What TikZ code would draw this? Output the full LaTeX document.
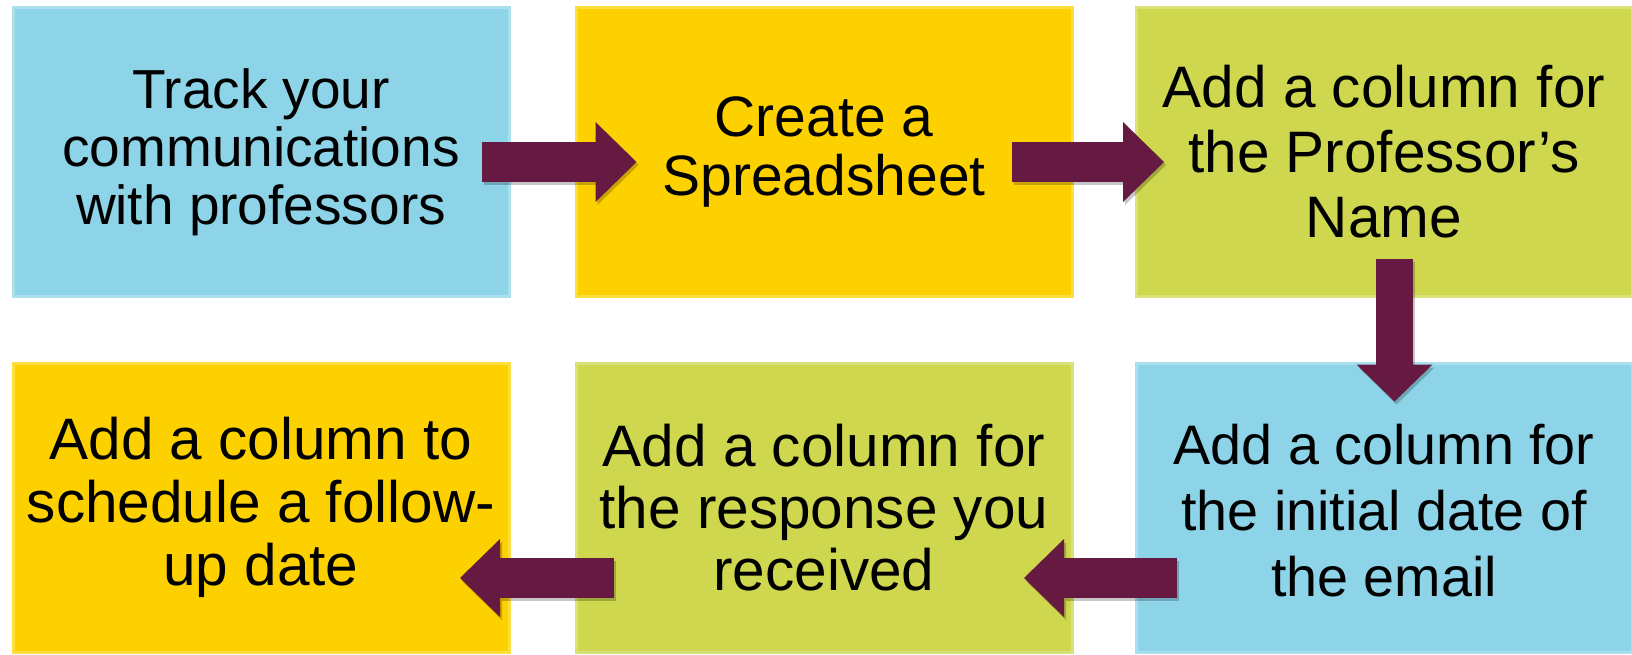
\documentclass[tikz,border=0pt]{standalone}
\usepackage{fontspec}
\setmainfont{Liberation Sans}
\usetikzlibrary{arrows.meta,calc}
\definecolor{cblue}{HTML}{8ED4E8}
\definecolor{cyellow}{HTML}{FDD100}
\definecolor{cgreen}{HTML}{CED74D}
\definecolor{cmaroon}{HTML}{661A42}
\begin{document}
\begin{tikzpicture}[x=1pt,y=-1pt,
  box/.style={minimum width=496pt, minimum height=288pt, inner sep=0pt,
    align=center, text=black, line width=3pt},
  bluebox/.style={box, fill=cblue, draw=cblue!75!white},
  yellowbox/.style={box, fill=cyellow, draw=cyellow!75!white},
  greenbox/.style={box, fill=cgreen, draw=cgreen!75!white},
  harrow/.style={draw=cmaroon, line width=40pt,
    -{Triangle[length=41pt,width=80pt,line width=0pt]}},
  varrow/.style={draw=cmaroon, line width=37pt,
    -{Triangle[length=37pt,width=76pt,line width=0pt]}},
  barrow/.style={draw=cmaroon, line width=40pt,
    -{Triangle[length=40pt,width=78pt,line width=0pt]}},
  shadow/.style={draw=black, opacity=0.22, transform canvas={xshift=2pt,yshift=-3pt}}
]
\useasboundingbox[fill=white] (0,0) rectangle (1632,655);

\node[bluebox, font=\fontsize{55}{58}\selectfont] (b1) at (261,152)
  {Track your\\communications\\with professors};
\node[yellowbox, font=\fontsize{57}{59}\selectfont] (b2) at (824,152)
  {Create a\\Spreadsheet};
\node[greenbox, font=\fontsize{58.5}{65}\selectfont] (b3) at (1384,152)
  {Add a column for\\the Professor’s\\Name};
\node[bluebox, minimum height=289pt, font=\fontsize{55.7}{66}\selectfont] (b4) at (1384,507.5)
  {\rule{0pt}{46pt}Add a column for\\the initial date of\\the email};
\node[greenbox, minimum height=289pt, font=\fontsize{58.5}{62}\selectfont] (b5) at (824,507.5)
  {Add a column for\\the response you\\received};
\node[yellowbox, minimum height=289pt, font=\fontsize{58.5}{63}\selectfont] (b6) at (261,507.5)
  {Add a column to\\schedule a follow-\\up date};

\coordinate (a1s) at ($(b1.east)+(-29,10)$);
\coordinate (a1e) at ($(b2.west)+(62,10)$);
\coordinate (a2s) at ($(b2.east)+(-61.5,10)$);
\coordinate (a2e) at ($(b3.west)+(29.5,10)$);
\coordinate (a3s) at ($(b3.south)+(10.5,-39)$);
\coordinate (a3e) at ($(b4.north)+(10.5,40)$);
\coordinate (a4s) at ($(b4.west)+(42.5,70.5)$);
\coordinate (a4e) at ($(b5.east)+(-49.5,70.5)$);
\coordinate (a5s) at ($(b5.west)+(39.5,70.5)$);
\coordinate (a5e) at ($(b6.east)+(-50.5,70.5)$);

\draw[harrow, shadow] (a1s) -- (a1e);
\draw[harrow, shadow] (a2s) -- (a2e);
\draw[varrow, shadow] (a3s) -- (a3e);
\draw[barrow, shadow] (a4s) -- (a4e);
\draw[barrow, shadow] (a5s) -- (a5e);

\draw[harrow] (a1s) -- (a1e);
\draw[harrow] (a2s) -- (a2e);
\draw[varrow] (a3s) -- (a3e);
\draw[barrow] (a4s) -- (a4e);
\draw[barrow] (a5s) -- (a5e);
\end{tikzpicture}
\end{document}
